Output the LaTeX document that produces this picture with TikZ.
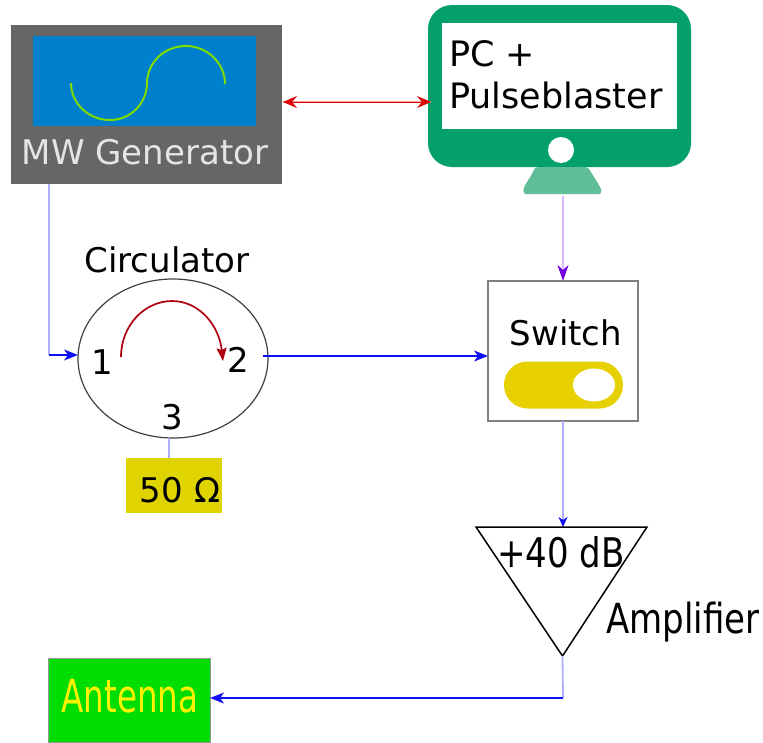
\documentclass[tikz,border=0pt]{standalone}
\usepackage{fontspec}
\usepackage{graphicx}
\setmainfont{DejaVu Sans}
\usetikzlibrary{shapes.geometric,arrows.meta,calc}
\newcommand{\fs}[1]{\fontsize{#1}{#1}\selectfont}
\definecolor{gengray}{HTML}{666666}
\definecolor{genblue}{HTML}{007FCC}
\definecolor{wave}{HTML}{80DD00}
\definecolor{pcgreen}{HTML}{04A06A}
\definecolor{standgreen}{HTML}{5FBD98}
\definecolor{tipred}{HTML}{E00000}
\definecolor{linered}{HTML}{F2A0A0}
\definecolor{arcred}{HTML}{B00010}
\definecolor{paleblue}{HTML}{AFAFFF}
\definecolor{tipblue}{HTML}{1010F0}
\definecolor{palepurple}{HTML}{DDBBFF}
\definecolor{tippurple}{HTML}{7000E0}
\definecolor{toggle}{HTML}{E6D000}
\definecolor{loadyellow}{HTML}{E0D400}
\definecolor{antgreen}{HTML}{00DD00}
\tikzset{
  box/.style={rectangle,inner sep=0pt,outer sep=0pt,draw=none},
  lbl/.style={inner sep=0pt,outer sep=0pt,text=black},
  bluetip/.style={-{Stealth[length=14pt,width=11pt,inset=4pt]},draw=tipblue,line width=1.3pt},
  paletip/.style={-{Stealth[length=10pt,width=9pt,inset=3pt,tipblue]},draw=paleblue,line width=2pt},
}
\begin{document}
\begin{tikzpicture}[x=1pt,y=-1pt]
\useasboundingbox (0,0) rectangle (763,742);
% MW generator
\node[box,fill=gengray,minimum width=271pt,minimum height=159pt] (gen) at (146.5,104.5) {};
\node[box,fill=genblue,minimum width=223pt,minimum height=90pt] (screen) at (144.5,81) {};
\draw[wave,line width=2pt] (71,83) .. controls (71,103) and (88,120) .. (110,120) .. controls (131,120) and (147,103) .. (147,83) .. controls (147,63) and (164,46) .. (186,46) .. controls (207,46) and (225,63) .. (225,84);
\node[lbl,text=white!90!black,font=\fs{34}] (genlabel) at (145,152) {MW Generator};
% PC
\node[box,fill=pcgreen,rounded corners=24pt,minimum width=263pt,minimum height=162pt] (pc) at (559.5,86) {};
\node[box,fill=white,minimum width=235pt,minimum height=106pt] (pcscreen) at (559.5,76) {};
\node[circle,fill=white,inner sep=0pt,minimum size=26pt] (pcdot) at (561,150) {};
\fill[standgreen,rounded corners=3pt] (535,167) .. controls (532,175) and (528,180) .. (524,187) .. controls (523,191) and (525,194) .. (528,194) -- (597,194) .. controls (600,194) and (602,191) .. (600,187) .. controls (596,180) and (592,174) .. (588,167) -- cycle;
\node[box,minimum width=1pt,minimum height=1pt] (stand) at (563,195) {};
\node[lbl,font=\fs{35},anchor=west] (pctext1) at (449,54) {PC +};
\node[lbl,font=\fs{35},anchor=west] (pctext2) at (449,95) {Pulseblaster};
% Circulator
\node[ellipse,draw=black!75,line width=1.2pt,inner sep=0pt,minimum width=190pt,minimum height=159pt] (circ) at (173,358.5) {};
\node[lbl,font=\fs{34}] (circlabel) at (167,260) {Circulator};
\node[lbl,font=\fs{34}] (p1) at (102,362) {1};
\node[lbl,font=\fs{34}] (p2) at (238,360) {2};
\node[lbl,font=\fs{34}] (p3) at (172,417) {3};
\coordinate (arcs) at (121,357);
\coordinate (arce) at (223,361);
\draw[arcred,line width=1.7pt,-{Stealth[length=13pt,width=10pt,inset=2pt]}] (arcs) .. controls (121,325) and (145,301) .. (172,301) .. controls (199,301) and (219,325) .. (arce);
% Load
\node[box,fill=loadyellow,minimum width=96pt,minimum height=55pt] (load) at (174,485.5) {};
\node[lbl,font=\fs{34}] (loadtext) at (180,490) {50 Ω};
% Switch
\node[box,draw=black!50,line width=1.4pt,fill=white,minimum width=150pt,minimum height=140pt] (sw) at (563,351) {};
\node[lbl,font=\fs{34}] (swtext) at (566,333) {Switch};
\node[box,fill=toggle,rounded corners=23.5pt,minimum width=119pt,minimum height=47pt] (tog) at (563.5,385) {};
\node[ellipse,fill=white,inner sep=0pt,minimum width=42pt,minimum height=33pt] (togdot) at (594,385) {};
% Amplifier
\coordinate (ta) at (476,527);
\coordinate (tb) at (647,527);
\coordinate (tc) at (562.5,656);
\coordinate (tin) at (563,527);
\draw[black,line width=1.5pt,line join=miter] (ta) -- (tb) -- (tc) -- cycle;
\node[lbl,font=\fs{34}] (amptext) at (561,552) {\scalebox{1}[1.2]{+40 dB}};
\node[lbl,font=\fs{34}] (amplabel) at (683,622) {\scalebox{1}[1.22]{Amplifier}};
% Antenna
\node[box,draw=black!40,line width=0.8pt,fill=antgreen,minimum width=162pt,minimum height=84pt] (ant) at (129,700) {};
\node[lbl,text=yellow,font=\fs{32.5}] (anttext) at (130,696) {\scalebox{1}[1.4]{Antenna}};
% Connectors
\coordinate (genout) at (49,184);
\coordinate (bend1) at (49,355);
\coordinate (c1) at (78,355);
\draw[paleblue,line width=2pt] (genout) -- (bend1);
\draw[bluetip] (bend1) -- (c1);
\draw[linered,line width=2pt] (283,102) -- (431,102);
\draw[tipred,line width=.8pt,{Stealth[length=14pt,width=12pt,inset=5pt]}-{Stealth[length=14pt,width=12pt,inset=5pt]}] (283,102) -- (431,102);
\coordinate (c2) at (263,356);
\coordinate (swin) at (488,356);
\draw[bluetip] (c2) -- (swin);
\draw[palepurple,line width=2pt,-{Stealth[length=16pt,width=11pt,inset=5pt,tippurple]}] (stand.south) -- (stand.south |- sw.north);
\draw[paletip] (sw.south -| tin) -- (tin);
\draw[paleblue,line width=2.2pt] (169,438) -- (load.north -| 169,0);
\coordinate (bend2) at (563,698);
\coordinate (antin) at (210,698);
\draw[paleblue,line width=1.8pt] (tc) -- (bend2);
\draw[bluetip] (bend2) -- (antin);
\end{tikzpicture}
\end{document}
